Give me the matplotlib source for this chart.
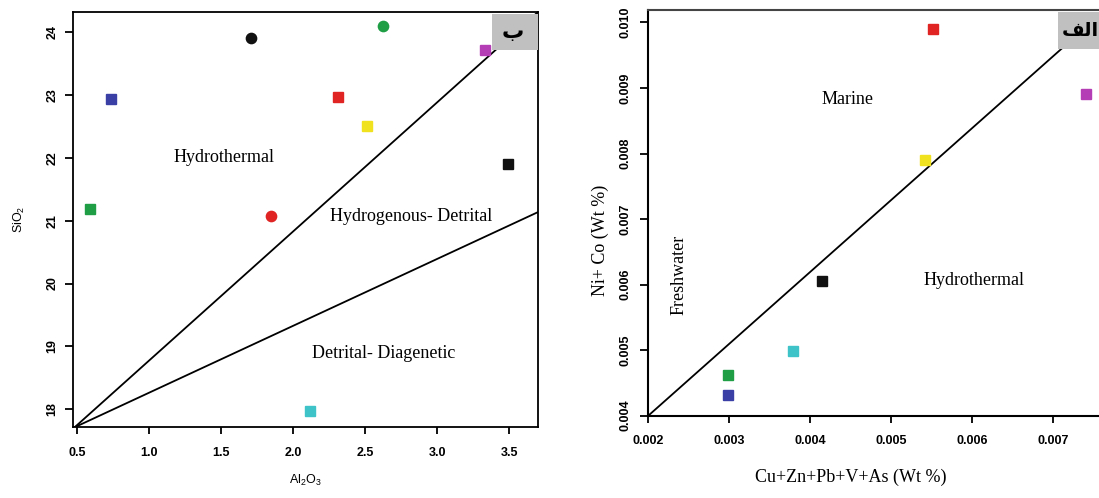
import matplotlib
matplotlib.use("Agg")
import matplotlib.pyplot as plt
from matplotlib.patches import Rectangle
from matplotlib.ticker import FormatStrFormatter

plt.rcParams['mathtext.default'] = 'regular'

# --- left panel (ب): SiO2 vs Al2O3 ---
al2o3 = [1.71, 0.74, 0.59, 1.85, 2.62, 3.33, 2.31, 2.51, 3.49, 2.12]
sio2 = [23.91, 22.94, 21.18, 21.08, 24.10, 23.72, 22.97, 22.51, 21.91, 17.97]
left_markers = ['o', 's', 's', 'o', 'o', 's', 's', 's', 's', 's']
left_colors = ['#111111', '#3a3fa6', '#1f9e45', '#e02424', '#1f9e45',
               '#b43cb4', '#e02424', '#f0e21e', '#111111', '#3ec3c8']

upper_line_x = [0.485, 3.70]
upper_line_y = [17.71, 24.33]
lower_line_x = [0.485, 3.70]
lower_line_y = [17.71, 21.14]

left_xticks = [0.5, 1.0, 1.5, 2.0, 2.5, 3.0, 3.5]
left_yticks = [18, 19, 20, 21, 22, 23, 24]

# --- right panel (الف): Ni+Co vs Cu+Zn+Pb+V+As ---
metals = [0.00551, 0.00740, 0.00541, 0.00415, 0.00379, 0.00299, 0.00299]
nico = [0.00990, 0.00891, 0.00790, 0.00606, 0.00499, 0.00462, 0.00432]
right_colors = ['#e02424', '#b43cb4', '#f0e21e', '#111111', '#3ec3c8',
                '#1f9e45', '#3a3fa6']

right_line_x = [0.002, 0.00764]
right_line_y = [0.004, 0.01019]

right_xticks = [0.002, 0.003, 0.004, 0.005, 0.006, 0.007]
right_yticks = [0.004, 0.005, 0.006, 0.007, 0.008, 0.009, 0.010]

serif = 'Liberation Serif'
sans = 'Liberation Sans'


def style_ticklabels(ax):
    for lab in ax.get_xticklabels():
        lab.set_fontfamily(sans)
        lab.set_fontweight('bold')
        lab.set_fontsize(9)
    for lab in ax.get_yticklabels():
        lab.set_fontfamily(sans)
        lab.set_fontweight('bold')
        lab.set_fontsize(9)
        lab.set_rotation(90)
        lab.set_va('center')


fig = plt.figure(figsize=(10.99, 4.98), dpi=100)

# left axes
ax1 = fig.add_axes([0.0662, 0.142, 0.4236, 0.8345])
ax1.plot(upper_line_x, upper_line_y, color='black', lw=1.3)
ax1.plot(lower_line_x, lower_line_y, color='black', lw=1.3)
for x, y, m, c in zip(al2o3, sio2, left_markers, left_colors):
    ax1.plot(x, y, marker=m, color=c, markersize=7.4 if m == 'o' else 6.8,
             markeredgecolor=c, linestyle='none')
ax1.set_xlim(0.472, 3.70)
ax1.set_ylim(17.71, 24.33)
ax1.set_xticks(left_xticks)
ax1.set_yticks(left_yticks)
ax1.xaxis.set_major_formatter(FormatStrFormatter('%.1f'))
ax1.tick_params(axis='x', direction='out', length=5, width=1.3, pad=9)
ax1.tick_params(axis='y', direction='out', length=5.5, width=1.3, pad=5)
style_ticklabels(ax1)
for s in ax1.spines.values():
    s.set_linewidth(1.3)
ax1.set_xlabel('Al$_2$O$_3$', fontfamily=sans, fontsize=9, labelpad=10)
ax1.set_ylabel('SiO$_2$', fontfamily=sans, fontsize=9, labelpad=14)

ax1.text(1.52, 22.01, 'Hydrothermal', fontfamily=serif, fontsize=13,
         ha='center', va='center')
ax1.text(2.82, 21.06, 'Hydrogenous- Detrital', fontfamily=serif, fontsize=13,
         ha='center', va='center')
ax1.text(2.63, 18.89, 'Detrital- Diagenetic', fontfamily=serif, fontsize=13,
         ha='center', va='center')

ax1.add_patch(Rectangle((0.9006, 0.908), 0.0994, 0.0865, transform=ax1.transAxes,
                        facecolor='#c0c0c0', edgecolor='none', zorder=5))
fig.text(513 / 1099, 1 - 38 / 498, 'ب', fontfamily='DejaVu Sans',
         fontsize=16, fontweight='bold', ha='center', va='baseline', zorder=6)

# right axes (extends past the right edge of the figure)
ax2 = fig.add_axes([0.5899, 0.1653, 0.4275, 0.8146])
ax2.plot(right_line_x, right_line_y, color='black', lw=1.3)
for x, y, c in zip(metals, nico, right_colors):
    ax2.plot(x, y, marker='s', color=c, markeredgecolor=c, markersize=7,
             linestyle='none')
ax2.set_xlim(0.002, 0.0078)
ax2.set_ylim(0.004, 0.01019)
ax2.set_xticks(right_xticks)
ax2.set_yticks(right_yticks)
ax2.xaxis.set_major_formatter(FormatStrFormatter('%.3f'))
ax2.yaxis.set_major_formatter(FormatStrFormatter('%.3f'))
ax2.tick_params(axis='x', direction='out', length=5, width=1.3, pad=9)
ax2.tick_params(axis='y', direction='out', length=6, width=1.3, pad=6)
style_ticklabels(ax2)
for s in ax2.spines.values():
    s.set_linewidth(1.5)
ax2.spines['top'].set_color('#444444')

ax2.text(0.00446, 0.00882, 'Marine', fontfamily=serif, fontsize=13,
         ha='center', va='center')
ax2.text(0.00602, 0.00606, 'Hydrothermal', fontfamily=serif, fontsize=13,
         ha='center', va='center')
ax2.text(0.00238, 0.00615, 'Freshwater', fontfamily=serif, fontsize=13,
         rotation=90, ha='center', va='center')

ax2.add_patch(Rectangle((0.873, 0.903), 0.2, 0.0915, transform=ax2.transAxes,
                        facecolor='#c0c0c0', edgecolor='none', zorder=5))
fig.text(1080 / 1099, 1 - 36 / 498, '\uFED2\uFEDF\u0627',
         fontfamily='DejaVu Sans', fontsize=14, fontweight='bold',
         ha='center', va='baseline', zorder=6)

fig.text(851 / 1099, 1 - 477 / 498, 'Cu+Zn+Pb+V+As (Wt %)', fontfamily=serif,
         fontsize=13, ha='center', va='center')
fig.text(600 / 1099, 1 - 240 / 498, 'Ni+ Co (Wt %)', fontfamily=serif,
         fontsize=13, rotation=90, ha='center', va='center')

fig.savefig('out.png', dpi=100)
